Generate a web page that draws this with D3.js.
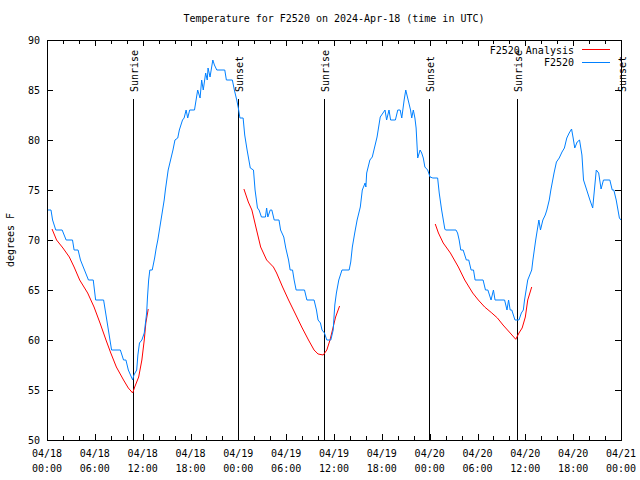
<!DOCTYPE html>
<html>
<head>
<meta charset="utf-8">
<script src="https://cdn.jsdelivr.net/npm/d3@7"></script>
<style>
  html, body { margin: 0; padding: 0; background: #fff; }
  svg { display: block; }
  text { font-family: "DejaVu Sans Mono", "Liberation Mono", monospace; font-size: 10px; fill: #000; }
</style>
</head>
<body>
<script>
// ---------- data (hours since 2024-04-18 00:00 UTC) ----------
const titleText = "Temperature for F2520 on 2024-Apr-18 (time in UTC)";
const yLabelText = "degrees F";
const seriesNames = ["F2520 Analysis", "F2520"];

const obsHours = [0.0,0.5,0.7,1.1,1.9,2.4,3.2,3.4,3.9,4.2,4.7,5.2,5.8,6.1,7.1,7.3,7.5,7.7,7.9,8.1,9.2,9.6,9.9,10.2,10.75,10.9,11.25,11.4,11.6,11.9,12.2,12.35,12.5,12.6,12.75,12.9,13.2,13.5,13.7,13.9,14.1,14.3,14.5,14.7,14.85,15.2,15.8,16.05,16.4,16.6,17.0,17.2,17.45,17.65,17.9,18.5,18.7,18.9,19.2,19.4,19.6,19.9,20.1,20.2,20.45,20.8,21.0,21.3,22.3,22.5,23.25,23.5,23.8,24.0,24.2,24.6,24.8,25.1,25.5,25.9,26.1,26.4,26.6,26.9,27.4,27.55,27.7,28.0,28.2,28.5,29.1,29.3,29.7,29.95,30.3,30.5,30.8,31.0,31.25,32.3,32.6,33.5,33.8,34.0,34.3,34.5,34.8,35.1,35.6,35.9,36.0,36.1,36.3,36.6,37.0,37.9,38.1,38.3,38.6,38.9,39.3,39.55,39.9,40.0,40.1,40.5,40.8,41.1,41.4,41.6,41.8,42.4,42.6,42.9,43.1,43.7,44.0,44.3,44.5,44.8,45.0,45.3,45.6,45.75,45.95,46.15,46.3,46.5,46.8,47.0,47.2,47.4,47.75,48.05,48.4,49.0,49.2,49.5,49.9,50.0,51.3,51.5,51.7,51.9,52.2,52.6,52.9,53.2,53.5,53.7,54.7,55.0,55.3,55.7,56.0,56.2,57.4,57.7,57.9,58.1,58.3,58.7,59.2,59.5,59.75,59.9,60.1,60.3,60.8,60.95,61.3,61.5,61.7,61.9,62.2,62.5,62.7,63.0,63.2,63.6,63.9,64.25,64.6,64.9,65.2,65.5,65.8,66.0,66.2,66.5,66.8,67.1,67.3,67.7,68.1,68.45,68.9,69.2,69.5,69.8,70.6,70.9,71.1,71.4,71.8,72.0];
const obsTemps = [73,73,72,71,71,70,70,69,69,68,67,66,66,64,64,63,62,61,60,59,59,58,58,57,56,56.5,57,58.5,59.7,60,60.7,61.7,62.7,64.2,66,67,67,68.2,69.2,70,71,72,73,74,75,77,79,80,80.2,81,82,82.2,83,82.2,83,83,84,85,84.2,86,85,86.7,86,87.2,86.3,88,87.5,87,87,86,86,85,84,83.2,82.2,82.2,80.5,79,77.2,77,75,73.2,73,72.3,72.3,73.2,72.3,73,73,72,72,71,70.3,69.2,68,67,67,66,65,65,64,64,63,62,61.7,61,60.7,60,60,61,62.3,63.5,64.7,66,67,67,67.8,69.3,70.7,72,73.3,75,75.7,75.3,76.7,78,78.3,79.3,80.3,81.3,82.3,83,82,83,82,82,83,83,82.2,84,85,84,83,82.2,83,82.2,81.2,78.2,79,78.7,78.2,77.3,77,76.3,76.2,76.2,74.7,73,71.1,71,71,70.7,70,69,69,68,68,67,67,66,66,65,65,64,65,64,64,63,64,63,63,62,62,62.7,63,64,65,66,67,68,70,71,72,71,72,72.5,73,74,75,76.7,77.8,78.2,78.8,79.2,80.2,80.7,81.1,80.2,79.2,79.8,80,78.5,76,75,74,73.2,77,76.7,75.1,76,76,75,75,74,72.2,72];

const anaHours1 = [0.63,1.2,2.0,2.8,3.4,4.1,5.1,5.9,6.65,7.4,8.0,8.7,9.6,10.2,10.75,11.0,11.5,11.9,12.2,12.4,12.7];
const anaTemps1 = [71.1,70,69.2,68.3,67.3,66,64.7,63.3,61.7,60,58.7,57.3,56,55.2,54.7,55.3,56.3,58,60,61.7,63.1];
const anaHours2 = [24.7,25.25,25.7,26.2,26.8,27.55,28.4,28.8,29.55,30.3,31.1,31.95,32.8,33.5,34.0,34.65,35.1,35.5,35.9,36.2,36.7];
const anaTemps2 = [75.1,73.8,73,71.3,69.3,68,67.3,66.7,65.3,64,62.7,61.3,60,59,58.6,58.5,59,60,61.3,62.3,63.4];
const anaHours3 = [48.7,49.1,49.7,50.6,51.6,52.4,53.4,54.1,54.9,55.8,56.5,57.2,58.1,58.8,59.2,59.6,60.0,60.3,60.8];
const anaTemps3 = [71.6,70.7,69.7,68.7,67.3,66,64.7,64,63.3,62.7,62.2,61.5,60.7,60.07,60.7,61.2,62.3,64,65.3];

const eventNames = ["Sunrise","Sunset","Sunrise","Sunset","Sunrise","Sunset"];
const eventHours = [10.83,23.93,34.8,47.97,58.9,72.0];

const yTicks = [50,55,60,65,70,75,80,85,90];
const xMajorHours = [0,6,12,18,24,30,36,42,48,54,60,66,72];
const xDateLabels = ["04/18","04/18","04/18","04/18","04/19","04/19","04/19","04/19","04/20","04/20","04/20","04/20","04/21"];
const xTimeLabels = ["00:00","06:00","12:00","18:00","00:00","06:00","12:00","18:00","00:00","06:00","12:00","18:00","00:00"];

// ---------- setup ----------
const W = 640, H = 480;
const L = 47, R = 621, T = 40, B = 440;
const t0 = Date.UTC(2024, 3, 18, 0, 0);
const toDate = h => new Date(t0 + h * 3600000);

const x = d3.scaleUtc().domain([toDate(0), toDate(72)]).range([L, R]);
const y = d3.scaleLinear().domain([50, 90]).range([B, T]);

const svg = d3.select("body").append("svg").attr("width", W).attr("height", H);
svg.append("rect").attr("width", W).attr("height", H).attr("fill", "#fff");

svg.append("defs").append("clipPath").attr("id", "plotclip")
  .append("rect").attr("x", L).attr("y", T).attr("width", R - L).attr("height", B - T);

// ---------- axes ----------
const majorDates = xMajorHours.map(toDate);
const minorDates = d3.range(0, 73, 2).filter(h => h % 6 !== 0).map(toDate);

function styleAxis(g) {
  g.select(".domain").remove();
  g.selectAll(".tick line").attr("stroke", "#000").attr("shape-rendering", "crispEdges");
  g.selectAll("text").attr("font-family", null).attr("font-size", null);
}

svg.append("g").attr("transform", `translate(0,${B})`)
  .call(d3.axisBottom(x).tickValues(majorDates).tickSizeInner(-6).tickSizeOuter(0).tickFormat(() => ""))
  .call(styleAxis);
svg.append("g").attr("transform", `translate(0,${B})`)
  .call(d3.axisBottom(x).tickValues(minorDates).tickSizeInner(-4).tickSizeOuter(0).tickFormat(() => ""))
  .call(styleAxis);
svg.append("g").attr("transform", `translate(0,${T})`)
  .call(d3.axisTop(x).tickValues(majorDates).tickSizeInner(-6).tickSizeOuter(0).tickFormat(() => ""))
  .call(styleAxis);
svg.append("g").attr("transform", `translate(0,${T})`)
  .call(d3.axisTop(x).tickValues(minorDates).tickSizeInner(-4).tickSizeOuter(0).tickFormat(() => ""))
  .call(styleAxis);
svg.append("g").attr("transform", `translate(${L},0)`)
  .call(d3.axisLeft(y).tickValues(yTicks).tickSizeInner(-6).tickSizeOuter(0).tickPadding(7).tickFormat(d3.format("d")))
  .call(styleAxis);
svg.append("g").attr("transform", `translate(${R},0)`)
  .call(d3.axisRight(y).tickValues(yTicks).tickSizeInner(-6).tickSizeOuter(0).tickFormat(() => ""))
  .call(styleAxis);

// two-line x labels
const xl = svg.append("g");
xMajorHours.forEach((h, i) => {
  const t = xl.append("text").attr("text-anchor", "middle")
    .attr("x", x(toDate(h)));
  t.append("tspan").attr("x", x(toDate(h))).attr("y", 457).text(xDateLabels[i]);
  t.append("tspan").attr("x", x(toDate(h))).attr("y", 472).text(xTimeLabels[i]);
});

// title & y label
svg.append("text").attr("x", (L + R) / 2).attr("y", 22).attr("text-anchor", "middle").text(titleText);
svg.append("text").attr("transform", `translate(14,${(T + B) / 2}) rotate(-90)`)
  .attr("text-anchor", "middle").text(yLabelText);

// ---------- sunrise / sunset markers ----------
const ev = svg.append("g");
eventHours.forEach((h, i) => {
  const ex = Math.round(x(toDate(h))) + 0.5;
  if (h < 72) {
    ev.append("line").attr("x1", ex).attr("x2", ex).attr("y1", 99).attr("y2", B)
      .attr("stroke", "#000").attr("stroke-width", 1).attr("shape-rendering", "crispEdges");
  }
  ev.append("text").attr("transform", `translate(${ex},92) rotate(-90)`)
    .attr("dy", 4).attr("text-anchor", "start").text(eventNames[i]);
});

// ---------- series ----------
const line = d3.line().x(d => x(toDate(d[0]))).y(d => y(d[1]));
const plot = svg.append("g").attr("clip-path", "url(#plotclip)");

[[anaHours1, anaTemps1], [anaHours2, anaTemps2], [anaHours3, anaTemps3]].forEach(([hs, ts]) => {
  plot.append("path").datum(d3.zip(hs, ts)).attr("d", line)
    .attr("fill", "none").attr("stroke", "#ff0000").attr("stroke-width", 1);
});
plot.append("path").datum(d3.zip(obsHours, obsTemps)).attr("d", line)
  .attr("fill", "none").attr("stroke", "#0080ff").attr("stroke-width", 1);

// border
svg.append("rect").attr("x", L + 0.5).attr("y", T + 0.5).attr("width", R - L).attr("height", B - T)
  .attr("fill", "none").attr("stroke", "#000").attr("stroke-width", 1).attr("shape-rendering", "crispEdges");

// ---------- legend ----------
const leg = svg.append("g");
const legColors = ["#ff0000", "#0080ff"];
seriesNames.forEach((n, i) => {
  const ly = 50 + i * 12.5;
  leg.append("text").attr("x", 574).attr("y", ly).attr("dy", "0.35em").attr("text-anchor", "end").text(n);
  leg.append("line").attr("x1", 582).attr("x2", 610).attr("y1", Math.round(ly) - 0.5).attr("y2", Math.round(ly) - 0.5)
    .attr("stroke", legColors[i]).attr("stroke-width", 1).attr("shape-rendering", "crispEdges");
});
</script>
</body>
</html>
